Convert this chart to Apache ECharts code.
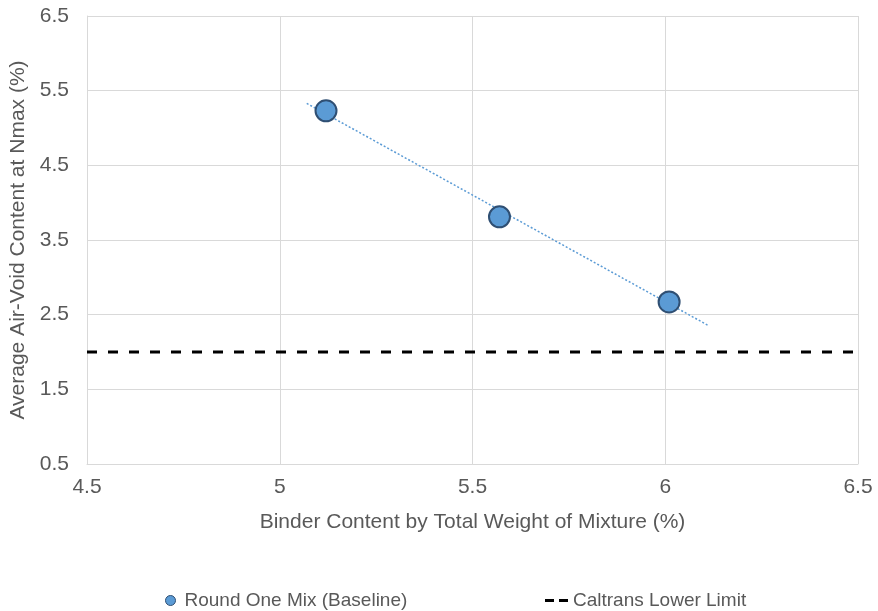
<!DOCTYPE html>
<html>
<head>
<meta charset="utf-8">
<script src="https://cdn.jsdelivr.net/npm/echarts@6/dist/echarts.min.js"></script>
<style>
html,body{margin:0;padding:0;background:#fff;}
#chart{width:878px;height:611px;}
</style>
</head>
<body>
<div id="chart"></div>
<script>
// Data
var binderContent = [5.12, 5.57, 6.01];
var airVoids = [5.23, 3.81, 2.67];
var trendX = [5.07, 6.11];
var trendY = [5.33, 2.36];
var limitX = [4.5, 6.5];
var limitY = [2.0, 2.0];
var xTicks = [4.5, 5, 5.5, 6, 6.5];
var yTicks = [0.5, 1.5, 2.5, 3.5, 4.5, 5.5, 6.5];
var seriesNames = ['Round One Mix (Baseline)', 'Caltrans Lower Limit'];

var txt = '#595959';
var font = '"Liberation Sans", Arial, sans-serif';
var gridColor = '#d9d9d9';

function zip(a, b) { return a.map(function (v, i) { return [v, b[i]]; }); }

var chart = echarts.init(document.getElementById('chart'), null, {renderer: 'canvas'});
chart.setOption({
  animation: false,
  backgroundColor: '#ffffff',
  grid: {left: 87, right: 20, top: 16, bottom: 147, containLabel: false, outerBoundsMode: 'none'},
  xAxis: {
    type: 'value', min: xTicks[0], max: xTicks[xTicks.length - 1], interval: 0.5,
    name: 'Binder Content by Total Weight of Mixture (%)',
    nameLocation: 'middle', nameGap: 48,
    nameTextStyle: {color: txt, fontSize: 21, fontFamily: font},
    axisLine: {show: true, lineStyle: {color: gridColor, width: 1}},
    axisTick: {show: false},
    splitLine: {show: true, lineStyle: {color: gridColor, width: 1}},
    axisLabel: {color: txt, fontSize: 21, fontFamily: font, margin: 13,
      formatter: function (v) { return String(+v.toFixed(1)); }}
  },
  yAxis: {
    type: 'value', min: yTicks[0], max: yTicks[yTicks.length - 1], interval: 1,
    name: 'Average Air-Void Content at Nmax (%)',
    nameLocation: 'middle', nameGap: 50,
    nameTextStyle: {color: txt, fontSize: 21, fontFamily: font},
    axisLine: {show: true, lineStyle: {color: gridColor, width: 1}},
    axisTick: {show: false},
    splitLine: {show: true, lineStyle: {color: gridColor, width: 1}},
    axisLabel: {color: txt, fontSize: 21, fontFamily: font, margin: 18,
      formatter: function (v) { return (+v).toFixed(1); }}
  },
  legend: [
    {
      data: [seriesNames[0]], left: 160, top: 586,
      itemWidth: 10, itemHeight: 10, icon: 'circle',
      itemStyle: {color: '#5b9bd5', borderColor: '#2f4f73', borderWidth: 1},
      textStyle: {color: txt, fontSize: 19, fontFamily: font, padding: [0, 0, 0, 4]}
    },
    {
      data: [{name: seriesNames[1], icon: 'path://M0,0 H9 V3 H0 Z M14,0 H23 V3 H14 Z'}],
      left: 540, top: 586,
      itemWidth: 23, itemHeight: 3,
      itemStyle: {color: '#000000', borderWidth: 0},
      textStyle: {color: txt, fontSize: 19, fontFamily: font, padding: [0, 0, 0, 0]}
    }
  ],
  series: [
    {
      name: 'trend', type: 'line', data: zip(trendX, trendY),
      symbol: 'none', silent: true, z: 2,
      lineStyle: {color: '#5b9bd5', width: 1.5, type: [2, 2]}
    },
    {
      name: seriesNames[1], type: 'line', data: zip(limitX, limitY),
      symbol: 'none', z: 3,
      itemStyle: {color: '#000000'},
      lineStyle: {color: '#000000', width: 3, type: [10, 11]}
    },
    {
      name: seriesNames[0], type: 'scatter', data: zip(binderContent, airVoids),
      symbol: 'circle', symbolSize: 21, z: 4,
      itemStyle: {color: '#5b9bd5', borderColor: '#2f4f73', borderWidth: 2, opacity: 1}
    }
  ]
});
</script>
</body>
</html>
